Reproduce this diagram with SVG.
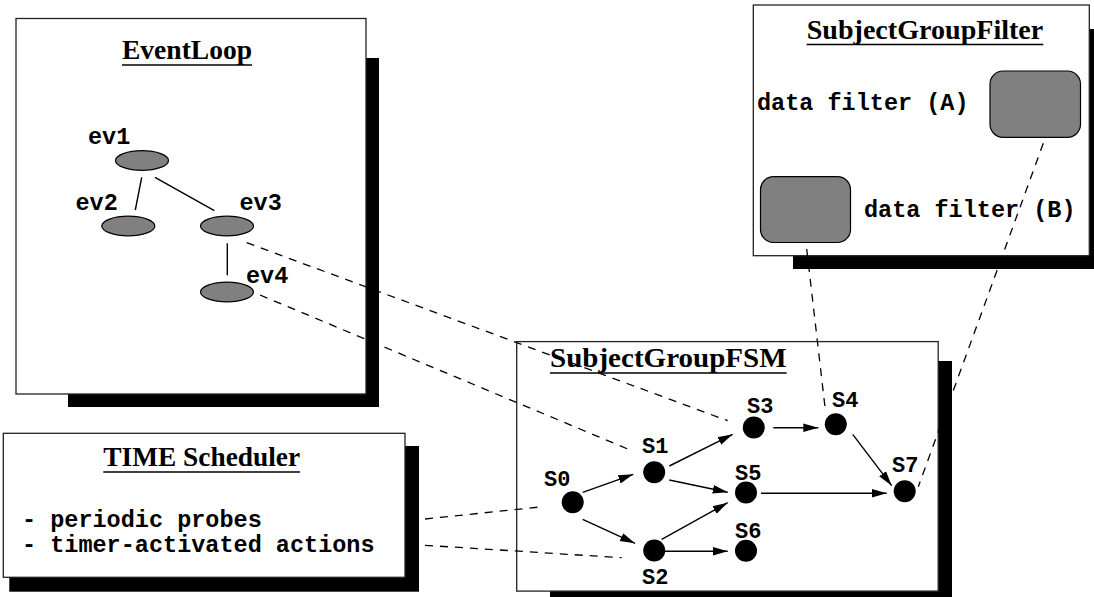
<svg xmlns="http://www.w3.org/2000/svg" width="1094" height="597" viewBox="0 0 1094 597">
  <style>
    .panel { fill: #ffffff; stroke: #222222; stroke-width: 1.3; }
    .shadow { fill: #000000; }
    .title { font-family: "Liberation Serif", "Times New Roman", serif; font-weight: bold; font-size: 27px; fill: #000000; }
    .uline { stroke: #000000; stroke-width: 1.5; }
    .mono { font-family: "Liberation Mono", "Courier New", monospace; font-weight: bold; font-size: 23.5px; fill: #000000; }
    .slabel { font-family: "Liberation Mono", "Courier New", monospace; font-weight: bold; font-size: 22px; fill: #000000; }
    .event { fill: #808080; stroke: #000000; stroke-width: 1.2; }
    .filter { fill: #808080; stroke: #000000; stroke-width: 1.2; }
    .state { fill: #000000; }
    .tree { stroke: #000000; stroke-width: 1.4; fill: none; }
    .arrow { stroke: #000000; stroke-width: 1.4; fill: none; marker-end: url(#ah); }
    .dash { stroke: #000000; stroke-width: 1.3; fill: none; stroke-dasharray: 8 7; }
  </style>
  <defs>
    <marker id="ah" markerUnits="userSpaceOnUse" markerWidth="16" markerHeight="10" refX="15" refY="5" orient="auto">
      <path d="M0,0.7 L15,5 L0,9.3 z" fill="#000000"/>
    </marker>
  </defs>

  <rect width="1094" height="597" fill="#ffffff"/>

  <!-- EventLoop panel -->
  <g id="eventloop">
    <rect class="shadow" x="68" y="58" width="311" height="349"/>
    <rect class="panel" x="16" y="18.5" width="350" height="375.5"/>
    <text class="title" x="187" y="59" text-anchor="middle" textLength="130" lengthAdjust="spacingAndGlyphs">EventLoop</text>
    <line class="uline" x1="122" y1="65" x2="252" y2="65"/>
  </g>
  <g id="ev1">
    <ellipse class="event" cx="142" cy="160.5" rx="26.5" ry="9.8"/>
    <text class="mono" x="88" y="144">ev1</text>
  </g>
  <g id="ev2">
    <ellipse class="event" cx="128.3" cy="226" rx="26.5" ry="9.8"/>
    <text class="mono" x="75.5" y="210">ev2</text>
  </g>
  <g id="ev3">
    <ellipse class="event" cx="227" cy="226" rx="26.5" ry="9.8"/>
    <text class="mono" x="239.5" y="210">ev3</text>
  </g>
  <g id="ev4">
    <ellipse class="event" cx="227" cy="292" rx="26.5" ry="9.8"/>
    <text class="mono" x="246" y="283">ev4</text>
  </g>

  <!-- SubjectGroupFilter panel -->
  <g id="subjectgroupfilter">
    <rect class="shadow" x="793" y="29" width="310" height="240"/>
    <rect class="panel" x="753.3" y="5" width="336" height="250.7"/>
    <text class="title" x="925" y="39" text-anchor="middle" textLength="236.6" lengthAdjust="spacingAndGlyphs">SubjectGroupFilter</text>
    <line class="uline" x1="806.7" y1="44.5" x2="1043.3" y2="44.5"/>
  </g>
  <g id="filterA">
    <rect class="filter" x="990" y="71" width="90.5" height="66.3" rx="13" ry="13"/>
    <text class="mono" x="757" y="110">data filter (A)</text>
  </g>
  <g id="filterB">
    <rect class="filter" x="760.5" y="176.7" width="90" height="65.8" rx="13" ry="13"/>
    <text class="mono" x="864" y="216.7">data filter (B)</text>
  </g>

  <!-- TIME Scheduler panel -->
  <g id="timescheduler">
    <rect class="shadow" x="9.3" y="446" width="409.7" height="145.7"/>
    <rect class="panel" x="3.3" y="433.3" width="401.7" height="144"/>
    <text class="title" x="201.7" y="466" text-anchor="middle" textLength="196.7" lengthAdjust="spacingAndGlyphs">TIME Scheduler</text>
    <line class="uline" x1="103.3" y1="472" x2="300" y2="472"/>
    <text class="mono" x="22" y="526.5" xml:space="preserve">- periodic probes</text>
    <text class="mono" x="22" y="551.5" xml:space="preserve">- timer-activated actions</text>
  </g>

  <!-- SubjectGroupFSM panel -->
  <g id="subjectgroupfsm">
    <rect class="shadow" x="550" y="361" width="402" height="240"/>
    <rect class="panel" x="516.7" y="341.6" width="421.5" height="249.5"/>
    <text class="title" x="668.3" y="366.5" text-anchor="middle" textLength="236.6" lengthAdjust="spacingAndGlyphs">SubjectGroupFSM</text>
    <line class="uline" x1="550" y1="373" x2="786.7" y2="373"/>
  </g>
  <g id="s0">
    <circle class="state" cx="572.7" cy="502.3" r="11"/>
    <text class="slabel" x="544" y="486">S0</text>
  </g>
  <g id="s1">
    <circle class="state" cx="654.2" cy="472.3" r="11"/>
    <text class="slabel" x="642" y="453">S1</text>
  </g>
  <g id="s2">
    <circle class="state" cx="654.2" cy="550.5" r="11"/>
    <text class="slabel" x="642" y="584">S2</text>
  </g>
  <g id="s3">
    <circle class="state" cx="753.8" cy="427.5" r="11"/>
    <text class="slabel" x="747" y="413">S3</text>
  </g>
  <g id="s4">
    <circle class="state" cx="835.8" cy="424.3" r="11"/>
    <text class="slabel" x="832" y="407">S4</text>
  </g>
  <g id="s5">
    <circle class="state" cx="746" cy="492.5" r="11"/>
    <text class="slabel" x="735" y="480">S5</text>
  </g>
  <g id="s6">
    <circle class="state" cx="746" cy="550.7" r="11"/>
    <text class="slabel" x="735" y="538">S6</text>
  </g>
  <g id="s7">
    <circle class="state" cx="904.7" cy="491.2" r="11"/>
    <text class="slabel" x="892" y="471.7">S7</text>
  </g>

  <!-- connectors -->
  <g id="connectors">
    <!-- event tree -->
    <line class="tree" x1="141.7" y1="177.3" x2="135.3" y2="210"/>
    <line class="tree" x1="155" y1="177.3" x2="214.3" y2="210.7"/>
    <line class="tree" x1="227.3" y1="243.3" x2="227.3" y2="275.3"/>

    <!-- state transitions -->
    <line class="arrow" x1="582.7" y1="492.3" x2="633.3" y2="474.3"/>
    <line class="arrow" x1="582.7" y1="519.3" x2="635" y2="543.3"/>
    <line class="arrow" x1="669.3" y1="466" x2="732.7" y2="434.3"/>
    <line class="arrow" x1="669.3" y1="480" x2="727.7" y2="492.3"/>
    <line class="arrow" x1="661.7" y1="539.3" x2="727.7" y2="502.7"/>
    <line class="arrow" x1="665" y1="551.3" x2="727.7" y2="551.3"/>
    <line class="arrow" x1="773.3" y1="427.7" x2="818.3" y2="427.7"/>
    <line class="arrow" x1="761" y1="493.3" x2="886.7" y2="493.3"/>
    <line class="arrow" x1="852.7" y1="434.3" x2="891.7" y2="485.7"/>

    <!-- dashed associations -->
    <line class="dash" x1="246.7" y1="242.7" x2="727.7" y2="420.7"/>
    <line class="dash" x1="260" y1="295" x2="632.5" y2="451"/>
    <line class="dash" x1="425" y1="519" x2="542.7" y2="506.7"/>
    <line class="dash" x1="425" y1="545.3" x2="621.7" y2="557.7"/>
    <line class="dash" x1="806.7" y1="249" x2="825" y2="407"/>
    <line class="dash" x1="1043.3" y1="143.3" x2="918.3" y2="486.7"/>
  </g>
</svg>
